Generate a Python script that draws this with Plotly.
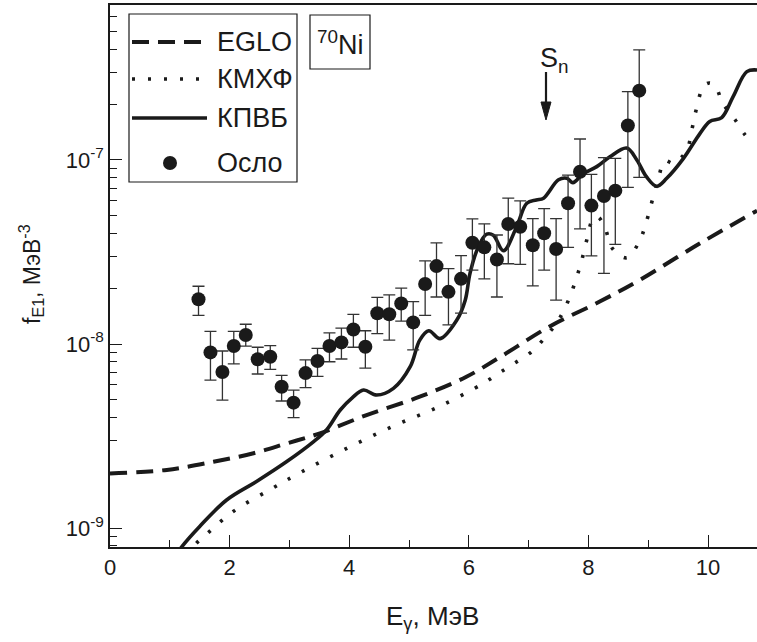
import plotly.graph_objects as go

# ---------------- data ----------------
oslo_x = [1.48, 1.68, 1.88, 2.07, 2.27, 2.47, 2.68, 2.87, 3.07, 3.27, 3.47, 3.67, 3.87,
          4.07, 4.27, 4.47, 4.67, 4.87, 5.07, 5.27, 5.46, 5.66, 5.87, 6.06, 6.26, 6.47,
          6.66, 6.86, 7.07, 7.26, 7.46, 7.66, 7.86, 8.05, 8.26, 8.45, 8.66, 8.85]
oslo_y = [1.75e-8, 9.0e-9, 7.04e-9, 9.75e-9, 1.12e-8, 8.26e-9, 8.53e-9, 5.86e-9, 4.8e-9,
          6.95e-9, 8.09e-9, 9.75e-9, 1.02e-8, 1.20e-8, 9.67e-9, 1.47e-8, 1.45e-8, 1.66e-8,
          1.31e-8, 2.12e-8, 2.65e-8, 1.92e-8, 2.26e-8, 3.55e-8, 3.35e-8, 2.88e-8, 4.49e-8,
          4.34e-8, 3.44e-8, 4.0e-8, 3.28e-8, 5.82e-8, 8.63e-8, 5.65e-8, 6.37e-8, 6.81e-8,
          1.54e-7, 2.38e-7]
oslo_hi = [2.06e-8, 1.17e-8, 9.16e-9, 1.17e-8, 1.28e-8, 9.6e-9, 9.8e-9, 6.76e-9, 5.62e-9,
           8.19e-9, 9.47e-9, 1.15e-8, 1.22e-8, 1.45e-8, 1.18e-8, 1.79e-8, 1.85e-8, 2.01e-8,
           1.70e-8, 2.83e-8, 3.54e-8, 2.57e-8, 3.02e-8, 4.78e-8, 4.5e-8, 3.91e-8, 6.2e-8,
           6.0e-8, 4.8e-8, 5.44e-8, 4.8e-8, 8.28e-8, 1.3e-7, 8.35e-8, 1.03e-7, 1.02e-7,
           2.35e-7, 3.96e-7]
oslo_lo = [1.43e-8, 6.37e-9, 4.96e-9, 7.79e-9, 9.75e-9, 6.87e-9, 7.28e-9, 4.9e-9, 3.98e-9,
           5.79e-9, 6.67e-9, 8.01e-9, 8.29e-9, 9.6e-9, 7.4e-9, 1.14e-8, 1.05e-8, 1.33e-8,
           9.3e-9, 1.43e-8, 1.8e-8, 1.27e-8, 1.47e-8, 2.52e-8, 2.26e-8, 1.8e-8, 2.73e-8,
           2.71e-8, 2.07e-8, 2.52e-8, 1.73e-8, 3.35e-8, 4.22e-8, 3.01e-8, 2.42e-8, 3.48e-8,
           7.1e-8, 8.05e-8]

eglo_x = [0.0, 0.95, 1.73, 2.40, 2.95, 3.51, 4.29, 5.18, 5.96, 6.50, 7.36, 8.19, 8.86, 9.87, 10.82]
eglo_y = [1.98e-9, 2.07e-9, 2.29e-9, 2.55e-9, 2.88e-9, 3.27e-9, 4.11e-9, 5.17e-9, 6.64e-9,
          8.4e-9, 1.25e-8, 1.7e-8, 2.23e-8, 3.53e-8, 5.3e-8]

kmhf_x = [1.30, 1.42, 1.62, 2.06, 2.68, 3.18, 3.96, 4.74, 5.52, 6.24, 6.49, 6.74, 7.05, 7.30,
          7.50, 7.65, 7.78, 7.89, 7.98, 8.08, 8.16, 8.28, 8.40, 8.64, 8.85, 8.97, 9.07, 9.17,
          9.28, 9.42, 9.64, 9.73, 9.81, 9.92, 10.02, 10.12, 10.25, 10.45, 10.62, 10.72]
kmhf_y = [7.0e-10, 8.1e-10, 9.3e-10, 1.23e-9, 1.62e-9, 2.0e-9, 2.71e-9, 3.58e-9, 4.6e-9,
          6.1e-9, 6.9e-9, 7.78e-9, 9.08e-9, 1.11e-8, 1.35e-8, 1.68e-8, 2.18e-8, 2.86e-8,
          3.75e-8, 4.82e-8, 4.9e-8, 4.25e-8, 3.31e-8, 2.94e-8, 3.6e-8, 4.62e-8, 6.06e-8,
          7.95e-8, 9.91e-8, 9.6e-8, 1.12e-7, 1.46e-7, 1.92e-7, 2.5e-7, 2.62e-7, 2.52e-7,
          2.03e-7, 1.66e-7, 1.37e-7, 1.27e-7]

kpvb_x = [1.10, 1.20, 1.50, 1.95, 2.45, 2.95, 3.40, 3.62, 3.85, 4.05, 4.24, 4.46, 4.74, 5.02,
          5.18, 5.33, 5.52, 5.80, 5.94, 6.02, 6.16, 6.30, 6.41, 6.58, 6.80, 6.97, 7.13, 7.25,
          7.50, 7.64, 7.74, 7.91, 8.14, 8.36, 8.64, 8.81, 8.97, 9.14, 9.31, 9.59, 9.87, 10.03,
          10.23, 10.42, 10.65, 10.82]
kpvb_y = [7.0e-10, 7.9e-10, 1.02e-9, 1.42e-9, 1.79e-9, 2.29e-9, 2.94e-9, 3.41e-9, 4.38e-9,
          5.1e-9, 5.62e-9, 5.28e-9, 5.74e-9, 7.53e-9, 1.05e-8, 1.18e-8, 1.07e-8, 1.35e-8,
          1.73e-8, 2.42e-8, 3.38e-8, 3.95e-8, 3.9e-8, 3.21e-8, 4.34e-8, 5.82e-8, 6.06e-8,
          6.2e-8, 7.8e-8, 7.95e-8, 7.53e-8, 8.4e-8, 9.2e-8, 1.04e-7, 1.16e-7, 1.0e-7, 8.11e-8,
          7.2e-8, 7.95e-8, 1.02e-7, 1.40e-7, 1.62e-7, 1.70e-7, 2.21e-7, 3.02e-7, 3.08e-7]

legend_names = ["EGLO", "КМХФ", "КПВБ", "Осло"]
y_tick_vals = [1e-9, 1e-8, 1e-7]
y_tick_text = ["10<sup>-9</sup>", "10<sup>-8</sup>", "10<sup>-7</sup>"]
x_tick_vals = [0, 2, 4, 6, 8, 10]

# ---------------- layout geometry ----------------
W, H = 757, 642
ML, MR, MT, MB = 110, 0, 5, 95
PW, PH = W - ML - MR, H - MT - MB


def px(xp):
    return (xp - ML) / PW


def py(yp):
    return (H - MB - yp) / PH


FONT = "Liberation Sans, Arial, sans-serif"
INK = "#1a1a1a"
DASH = "17px,9px"
DOT = "3px,13px"

fig = go.Figure()

fig.add_trace(go.Scatter(x=eglo_x, y=eglo_y, mode="lines", line_shape="spline",
                         line=dict(color=INK, width=4, dash=DASH), name=legend_names[0],
                         showlegend=False))
fig.add_trace(go.Scatter(x=kmhf_x, y=kmhf_y, mode="lines", line_shape="spline",
                         line=dict(color=INK, width=3.6, dash=DOT), name=legend_names[1],
                         showlegend=False))
fig.add_trace(go.Scatter(x=kpvb_x, y=kpvb_y, mode="lines", line_shape="spline",
                         line=dict(color=INK, width=3.6), name=legend_names[2],
                         showlegend=False))
fig.add_trace(go.Scatter(
    x=oslo_x, y=oslo_y, mode="markers", name=legend_names[3], showlegend=False,
    marker=dict(color=INK, size=14, line=dict(width=0)),
    error_y=dict(type="data", symmetric=False,
                 array=[h - v for h, v in zip(oslo_hi, oslo_y)],
                 arrayminus=[v - l for l, v in zip(oslo_lo, oslo_y)],
                 color="#333333", thickness=1.3, width=6)))

shapes = []
annotations = []

# custom legend box
shapes.append(dict(type="rect", xref="paper", yref="paper", x0=px(129), x1=px(297),
                   y0=py(182), y1=py(14), line=dict(color=INK, width=1.2), fillcolor="white",
                   layer="above"))
rows = [42, 79, 118, 163]
styles = [dict(width=4, dash=DASH), dict(width=3.6, dash=DOT), dict(width=3.6)]
for i in range(3):
    shapes.append(dict(type="line", xref="paper", yref="paper", x0=px(132), x1=px(207),
                       y0=py(rows[i]), y1=py(rows[i]), line=dict(color=INK, **styles[i]),
                       layer="above"))
shapes.append(dict(type="circle", xref="paper", yref="paper", x0=px(163), x1=px(177),
                   y0=py(170), y1=py(156), fillcolor=INK, line=dict(width=0), layer="above"))
for i, name in enumerate(legend_names):
    annotations.append(dict(xref="paper", yref="paper", x=px(215), y=py(rows[i]),
                            xanchor="left", yanchor="middle", text=name, showarrow=False,
                            font=dict(family=FONT, size=27, color=INK)))

# 70Ni label box
shapes.append(dict(type="rect", xref="paper", yref="paper", x0=px(310), x1=px(370),
                   y0=py(69), y1=py(15), line=dict(color=INK, width=1.2), layer="above"))
annotations.append(dict(xref="paper", yref="paper", x=px(340), y=py(43), xanchor="center",
                        yanchor="middle", text="<sup>70</sup>Ni", showarrow=False,
                        font=dict(family=FONT, size=27, color=INK)))

# Sn label with arrow (drawn as shapes in paper coordinates)
ARX = 546
shapes.append(dict(type="line", xref="paper", yref="paper", x0=px(ARX), x1=px(ARX),
                   y0=py(72), y1=py(106), line=dict(color=INK, width=2.2), layer="above"))
shapes.append(dict(type="path", xref="paper", yref="paper",
                   path="M %f,%f L %f,%f L %f,%f Z" % (px(ARX - 5), py(102), px(ARX + 5), py(102),
                                                        px(ARX), py(120)),
                   fillcolor=INK, line=dict(color=INK, width=1), layer="above"))
annotations.append(dict(xref="paper", yref="paper", x=px(538), y=py(60), xanchor="left",
                        yanchor="middle", text="S<sub>n</sub>", showarrow=False,
                        font=dict(family=FONT, size=27, color=INK)))

# axis titles placed manually
annotations.append(dict(xref="paper", yref="paper", x=px(31), y=py(274), xanchor="center",
                        yanchor="middle", textangle=-90,
                        text="f<sub>E1</sub>, МэВ<sup>-3</sup>", showarrow=False,
                        font=dict(family=FONT, size=23, color=INK)))
annotations.append(dict(xref="paper", yref="paper", x=px(432), y=py(617), xanchor="center",
                        yanchor="middle", text="E<sub>γ</sub>, МэВ", showarrow=False,
                        font=dict(family=FONT, size=26, color=INK)))

fig.update_layout(
    width=W, height=H, margin=dict(l=ML, r=MR, t=MT, b=MB, autoexpand=False),
    paper_bgcolor="white", plot_bgcolor="white",
    font=dict(family=FONT, color=INK),
    shapes=shapes, annotations=annotations, showlegend=False,
)
fig.update_xaxes(
    range=[0, (W - ML) / 59.8], tickvals=x_tick_vals, ticks="inside", ticklen=12,
    tickwidth=1.3, tickcolor=INK, showline=True, linecolor=INK, linewidth=1.5, mirror=True,
    showgrid=False, zeroline=False, tickfont=dict(family=FONT, size=22, color=INK),
    automargin=False,
    minor=dict(dtick=1, ticks="inside", ticklen=7, tickcolor=INK, tickwidth=1.3, showgrid=False),
)
fig.update_yaxes(
    type="log", range=[-9.103, -6.158], tickvals=y_tick_vals, ticktext=y_tick_text,
    ticks="inside", ticklen=12, tickwidth=1.3, tickcolor=INK, showline=True, linecolor=INK,
    linewidth=1.5, showgrid=False, zeroline=False, automargin=False,
    tickfont=dict(family=FONT, size=22, color=INK),
    minor=dict(dtick="D1", ticks="inside", ticklen=7, tickcolor=INK, tickwidth=1.3, showgrid=False),
)

fig.write_html("out.html", config={"displayModeBar": False},
               post_script="document.body.style.margin='0';document.body.style.overflow='hidden';")
